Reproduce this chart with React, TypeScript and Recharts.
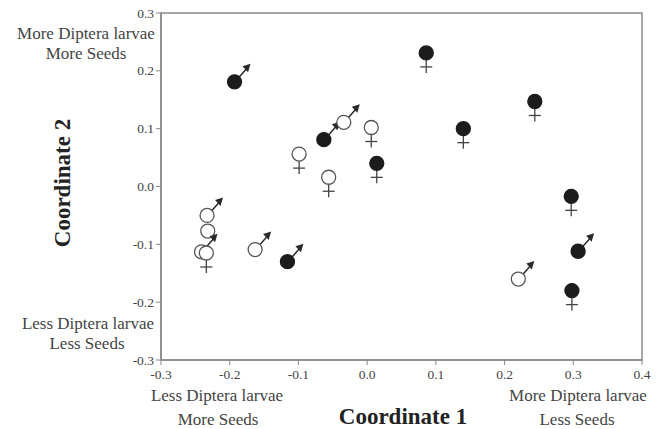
import { ScatterChart, Scatter, XAxis, YAxis, ReferenceArea } from 'recharts';

// ordination scores
const coord1 = [-0.193, -0.099, -0.063, -0.034, 0.006, 0.014, -0.056, 0.086, 0.244, 0.140, 0.297, 0.307, 0.220, 0.298, -0.233, -0.232, -0.241, -0.234, -0.163, -0.116];
const coord2 = [0.181, 0.056, 0.081, 0.111, 0.102, 0.040, 0.016, 0.231, 0.147, 0.100, -0.017, -0.112, -0.160, -0.180, -0.050, -0.077, -0.113, -0.115, -0.109, -0.130];
const filled = [true, false, true, false, false, true, false, true, true, true, true, true, false, true, false, false, false, false, false, true];
const sex = ['m', 'f', 'm', 'm', 'f', 'f', 'f', 'f', 'f', 'f', 'f', 'm', 'm', 'f', 'm', '', 'm', 'f', 'm', 'm'];

const xTicks = [-0.3, -0.2, -0.1, 0.0, 0.1, 0.2, 0.3, 0.4];
const yTicks = [-0.3, -0.2, -0.1, 0.0, 0.1, 0.2, 0.3];

const points = coord1.map((x, i) => ({ x, y: coord2[i], filled: filled[i], sex: sex[i] }));

const FONT = '"Liberation Serif", "Times New Roman", serif';
const AXIS = '#8a8a8a';

const Marker = (props: any) => {
  const { cx, cy, payload } = props;
  const r = 7;
  const ink = '#2a2a2a';
  return (
    <g>
      {payload.sex === 'f' && (
        <g stroke="#444" strokeWidth={1.3}>
          <line x1={cx} y1={cy + r} x2={cx} y2={cy + r + 13} />
          <line x1={cx - 6} y1={cy + r + 7} x2={cx + 6} y2={cy + r + 7} />
        </g>
      )}
      {payload.sex === 'm' && (
        <g>
          <line x1={cx + 4} y1={cy - 4} x2={cx + 12} y2={cy - 13} stroke={ink} strokeWidth={1.5} />
          <polygon points={`${cx + 16},${cy - 18} ${cx + 8},${cy - 15.5} ${cx + 13.5},${cy - 9.5}`} fill={ink} />
        </g>
      )}
      <circle cx={cx} cy={cy} r={r} fill={payload.filled ? '#1c1c1c' : '#fff'} stroke={payload.filled ? '#1c1c1c' : '#555'} strokeWidth={1.3} />
    </g>
  );
};

const XTick = (props: any) => {
  const { x, y, payload } = props;
  return (
    <text x={x} y={y + 12} textAnchor="middle" style={{ fontFamily: FONT, fontSize: 13.5, fill: '#444' }}>
      {Number(payload.value).toFixed(1)}
    </text>
  );
};

const YTick = (props: any) => {
  const { x, y, payload } = props;
  return (
    <text x={x} y={y + 4.5} textAnchor="end" style={{ fontFamily: FONT, fontSize: 13.5, fill: '#444' }}>
      {Number(payload.value).toFixed(1)}
    </text>
  );
};

const txt = { fontFamily: FONT, fill: '#444', fontSize: 17 };
const bold = { fontFamily: FONT, fontWeight: 'bold', fontSize: 23, fill: '#222' };

export default function App() {
  return (
    <div style={{ position: 'absolute', left: 0, top: 0, width: 660, height: 429, background: '#fff' }}>
      <ScatterChart width={660} height={429} margin={{ top: 13, right: 18, bottom: 0, left: 0 }}>
        <XAxis
          type="number"
          dataKey="x"
          domain={[-0.3, 0.4]}
          ticks={xTicks}
          height={69}
          axisLine={{ stroke: AXIS, strokeWidth: 1.5 }}
          tickLine={{ stroke: AXIS }}
          tickSize={5}
          tickMargin={2}
          tick={<XTick />}
          allowDataOverflow
        />
        <YAxis
          type="number"
          dataKey="y"
          domain={[-0.3, 0.3]}
          ticks={yTicks}
          width={161}
          axisLine={{ stroke: AXIS, strokeWidth: 1.5 }}
          tickLine={{ stroke: AXIS }}
          tickSize={5}
          tickMargin={2}
          tick={<YTick />}
          allowDataOverflow
        />
        <ReferenceArea x1={-0.3} x2={0.4} y1={-0.3} y2={0.3} fill="none" stroke={AXIS} strokeWidth={1.5} fillOpacity={0} />
        <Scatter data={points} shape={Marker} isAnimationActive={false} />
      </ScatterChart>
      <svg width={660} height={429} style={{ position: 'absolute', left: 0, top: 0, pointerEvents: 'none' }}>
        <text x={86} y={39} textAnchor="middle" {...txt}>More Diptera larvae</text>
        <text x={86} y={59} textAnchor="middle" {...txt}>More Seeds</text>
        <text x={88} y={329} textAnchor="middle" {...txt}>Less Diptera larvae</text>
        <text x={87} y={349} textAnchor="middle" {...txt}>Less Seeds</text>
        <text
          x={62}
          y={183}
          textAnchor="middle"
          dominantBaseline="central"
          transform="rotate(-90 62 183)"
          style={bold}
        >
          Coordinate 2
        </text>
        <text x={217} y={401} textAnchor="middle" {...txt}>Less Diptera larvae</text>
        <text x={218} y={425} textAnchor="middle" {...txt}>More Seeds</text>
        <text x={578} y={401} textAnchor="middle" {...txt}>More Diptera larvae</text>
        <text x={577} y={425} textAnchor="middle" {...txt}>Less Seeds</text>
        <text x={403} y={424} textAnchor="middle" style={bold}>
          Coordinate 1
        </text>
      </svg>
    </div>
  );
}
